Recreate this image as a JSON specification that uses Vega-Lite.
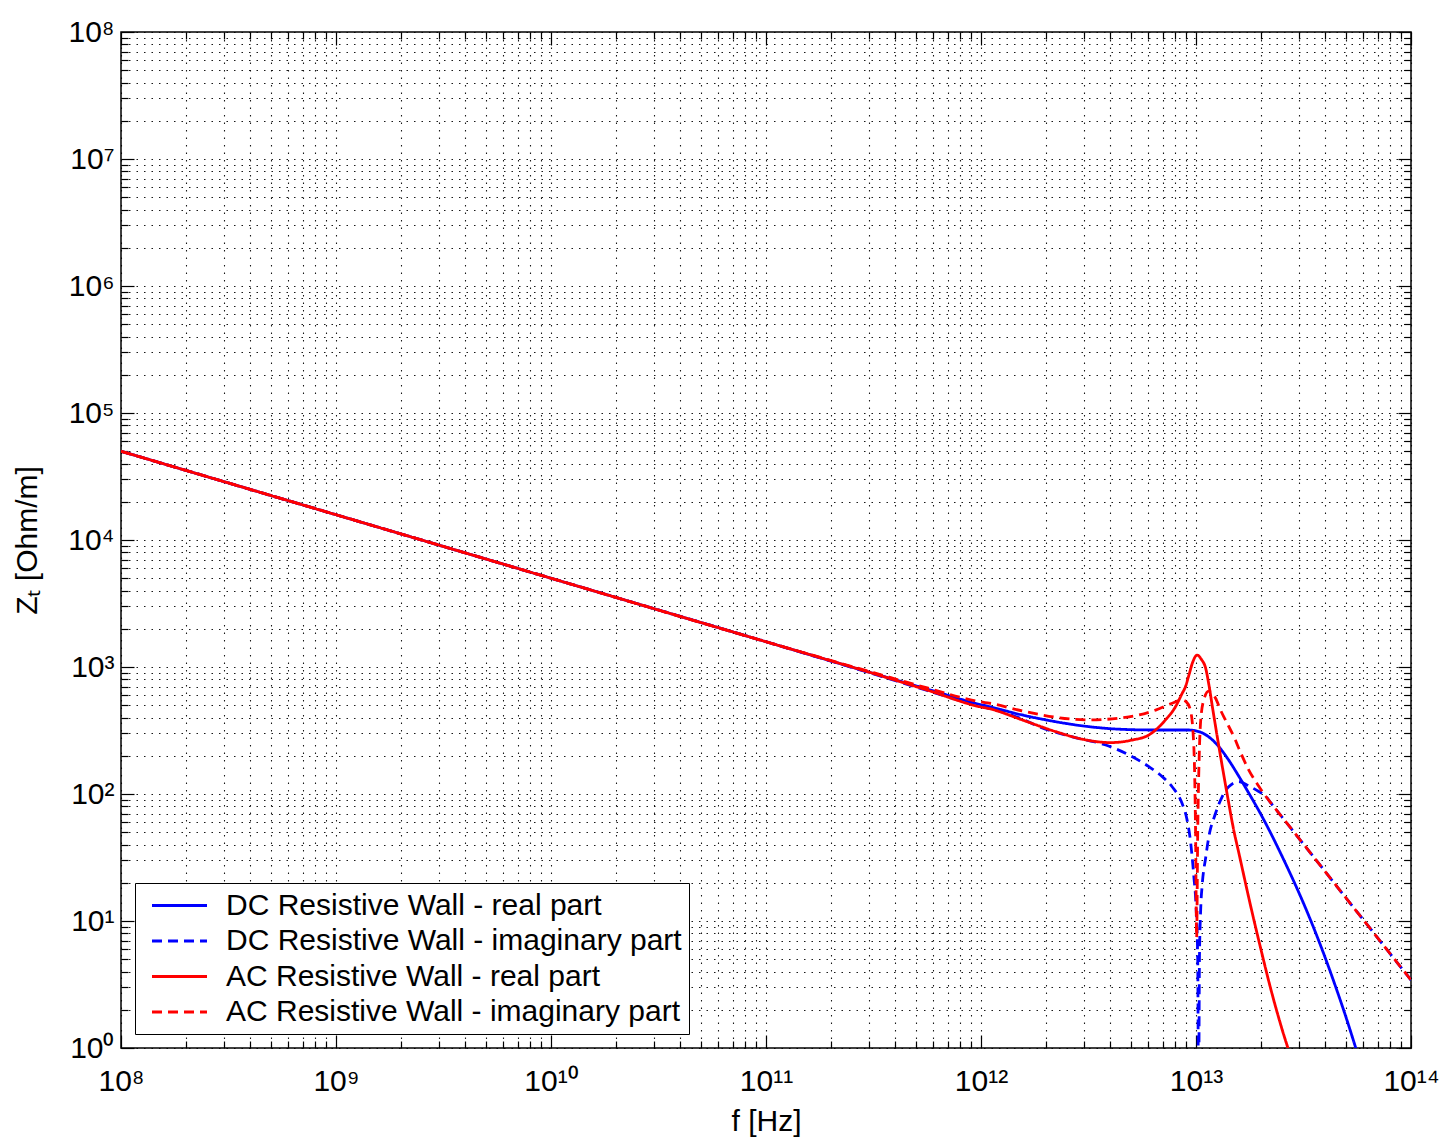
{
  "$schema": "https://vega.github.io/schema/vega-lite/v6.json",
  "width": 1290,
  "height": 1016,
  "autosize": {"type": "none"},
  "padding": {"left": 121, "top": 32, "right": 28, "bottom": 89},
  "background": "white",
  "config": {
    "view": {"stroke": "black", "strokeWidth": 1.5},
    "font": "Liberation Sans",
    "axis": {"labelFont": "Liberation Sans", "titleFont": "Liberation Sans", "labelColor": "black", "titleColor": "black", "titleFontWeight": "normal", "tickColor": "black", "domain": false}
  },
  "datasets": {
    "z": [
      {"f": 1e8, "z": 50000, "s": "DC Resistive Wall - real part"},
      {"f": 1e9, "z": 15812, "s": "DC Resistive Wall - real part"},
      {"f": 1e10, "z": 5000, "s": "DC Resistive Wall - real part"},
      {"f": 1e11, "z": 1581, "s": "DC Resistive Wall - real part"},
      {"f": 3.1623e11, "z": 889, "s": "DC Resistive Wall - real part"},
      {"f": 5.6234e11, "z": 670, "s": "DC Resistive Wall - real part"},
      {"f": 1e12, "z": 505, "s": "DC Resistive Wall - real part"},
      {"f": 1.0914e12, "z": 488, "s": "DC Resistive Wall - real part"},
      {"f": 1.556e12, "z": 419, "s": "DC Resistive Wall - real part"},
      {"f": 2.2233e12, "z": 371, "s": "DC Resistive Wall - real part"},
      {"f": 3.1769e12, "z": 339, "s": "DC Resistive Wall - real part"},
      {"f": 4.5394e12, "z": 323, "s": "DC Resistive Wall - real part"},
      {"f": 6.4863e12, "z": 319, "s": "DC Resistive Wall - real part"},
      {"f": 9.247e12, "z": 319, "s": "DC Resistive Wall - real part"},
      {"f": 1.0304e13, "z": 310, "s": "DC Resistive Wall - real part"},
      {"f": 1.1455e13, "z": 282, "s": "DC Resistive Wall - real part"},
      {"f": 1.2764e13, "z": 236, "s": "DC Resistive Wall - real part"},
      {"f": 1.4191e13, "z": 185, "s": "DC Resistive Wall - real part"},
      {"f": 1.5812e13, "z": 138, "s": "DC Resistive Wall - real part"},
      {"f": 1.7579e13, "z": 102, "s": "DC Resistive Wall - real part"},
      {"f": 1.9588e13, "z": 74.1, "s": "DC Resistive Wall - real part"},
      {"f": 2.2594e13, "z": 46.8, "s": "DC Resistive Wall - real part"},
      {"f": 2.5119e13, "z": 32.4, "s": "DC Resistive Wall - real part"},
      {"f": 2.8184e13, "z": 21.4, "s": "DC Resistive Wall - real part"},
      {"f": 3.1623e13, "z": 13.8, "s": "DC Resistive Wall - real part"},
      {"f": 3.5481e13, "z": 8.61, "s": "DC Resistive Wall - real part"},
      {"f": 3.9811e13, "z": 5.19, "s": "DC Resistive Wall - real part"},
      {"f": 4.4668e13, "z": 3.02, "s": "DC Resistive Wall - real part"},
      {"f": 5.0119e13, "z": 1.70, "s": "DC Resistive Wall - real part"},
      {"f": 5.559e13, "z": 0.977, "s": "DC Resistive Wall - real part"},
      {"f": 6.3096e13, "z": 0.49, "s": "DC Resistive Wall - real part"},

      {"f": 1e8, "z": 50000, "s": "DC Resistive Wall - imaginary part"},
      {"f": 1e9, "z": 15812, "s": "DC Resistive Wall - imaginary part"},
      {"f": 1e10, "z": 5000, "s": "DC Resistive Wall - imaginary part"},
      {"f": 1e11, "z": 1581, "s": "DC Resistive Wall - imaginary part"},
      {"f": 3.1623e11, "z": 881, "s": "DC Resistive Wall - imaginary part"},
      {"f": 5.6234e11, "z": 653, "s": "DC Resistive Wall - imaginary part"},
      {"f": 1e12, "z": 490, "s": "DC Resistive Wall - imaginary part"},
      {"f": 1.0914e12, "z": 473, "s": "DC Resistive Wall - imaginary part"},
      {"f": 1.556e12, "z": 389, "s": "DC Resistive Wall - imaginary part"},
      {"f": 1.8621e12, "z": 339, "s": "DC Resistive Wall - imaginary part"},
      {"f": 2.6607e12, "z": 282, "s": "DC Resistive Wall - imaginary part"},
      {"f": 3.8019e12, "z": 243, "s": "DC Resistive Wall - imaginary part"},
      {"f": 4.8753e12, "z": 203, "s": "DC Resistive Wall - imaginary part"},
      {"f": 6.0395e12, "z": 164, "s": "DC Resistive Wall - imaginary part"},
      {"f": 6.9663e12, "z": 137, "s": "DC Resistive Wall - imaginary part"},
      {"f": 7.7446e12, "z": 114, "s": "DC Resistive Wall - imaginary part"},
      {"f": 8.6099e12, "z": 84.5, "s": "DC Resistive Wall - imaginary part"},
      {"f": 9.0782e12, "z": 63.1, "s": "DC Resistive Wall - imaginary part"},
      {"f": 9.4406e12, "z": 41.7, "s": "DC Resistive Wall - imaginary part"},
      {"f": 9.7724e12, "z": 22.4, "s": "DC Resistive Wall - imaginary part"},
      {"f": 1e13, "z": 13.2, "s": "DC Resistive Wall - imaginary part"},
      {"f": 1.0186e13, "z": 5.0, "s": "DC Resistive Wall - imaginary part"},
      {"f": 1.028e13, "z": 0.32, "s": "DC Resistive Wall - imaginary part"},
      {"f": 1.0375e13, "z": 5.0, "s": "DC Resistive Wall - imaginary part"},
      {"f": 1.052e13, "z": 12.6, "s": "DC Resistive Wall - imaginary part"},
      {"f": 1.0691e13, "z": 19.4, "s": "DC Resistive Wall - imaginary part"},
      {"f": 1.1092e13, "z": 31.5, "s": "DC Resistive Wall - imaginary part"},
      {"f": 1.1455e13, "z": 45.3, "s": "DC Resistive Wall - imaginary part"},
      {"f": 1.2331e13, "z": 70.5, "s": "DC Resistive Wall - imaginary part"},
      {"f": 1.3243e13, "z": 95.3, "s": "DC Resistive Wall - imaginary part"},
      {"f": 1.4191e13, "z": 114, "s": "DC Resistive Wall - imaginary part"},
      {"f": 1.5812e13, "z": 125, "s": "DC Resistive Wall - imaginary part"},
      {"f": 1.7579e13, "z": 116, "s": "DC Resistive Wall - imaginary part"},
      {"f": 1.9498e13, "z": 105, "s": "DC Resistive Wall - imaginary part"},
      {"f": 2.1038e13, "z": 96.6, "s": "DC Resistive Wall - imaginary part"},
      {"f": 2.2387e13, "z": 84.3, "s": "DC Resistive Wall - imaginary part"},
      {"f": 2.5119e13, "z": 65.9, "s": "DC Resistive Wall - imaginary part"},
      {"f": 3.1623e13, "z": 40.3, "s": "DC Resistive Wall - imaginary part"},
      {"f": 3.9811e13, "z": 24.6, "s": "DC Resistive Wall - imaginary part"},
      {"f": 5.0119e13, "z": 15.0, "s": "DC Resistive Wall - imaginary part"},
      {"f": 6.3096e13, "z": 9.18, "s": "DC Resistive Wall - imaginary part"},
      {"f": 7.9433e13, "z": 5.61, "s": "DC Resistive Wall - imaginary part"},
      {"f": 1e14, "z": 3.43, "s": "DC Resistive Wall - imaginary part"},

      {"f": 1e8, "z": 50000, "s": "AC Resistive Wall - real part"},
      {"f": 1e9, "z": 15812, "s": "AC Resistive Wall - real part"},
      {"f": 1e10, "z": 5000, "s": "AC Resistive Wall - real part"},
      {"f": 1e11, "z": 1581, "s": "AC Resistive Wall - real part"},
      {"f": 3.1623e11, "z": 889, "s": "AC Resistive Wall - real part"},
      {"f": 5.6234e11, "z": 658, "s": "AC Resistive Wall - real part"},
      {"f": 1e12, "z": 484, "s": "AC Resistive Wall - real part"},
      {"f": 1.0914e12, "z": 470, "s": "AC Resistive Wall - real part"},
      {"f": 1.556e12, "z": 383, "s": "AC Resistive Wall - real part"},
      {"f": 2.2233e12, "z": 310, "s": "AC Resistive Wall - real part"},
      {"f": 2.958e12, "z": 270, "s": "AC Resistive Wall - real part"},
      {"f": 4.0087e12, "z": 254, "s": "AC Resistive Wall - real part"},
      {"f": 5.0466e12, "z": 266, "s": "AC Resistive Wall - real part"},
      {"f": 6.0395e12, "z": 292, "s": "AC Resistive Wall - real part"},
      {"f": 7.2111e12, "z": 383, "s": "AC Resistive Wall - real part"},
      {"f": 8.0353e12, "z": 488, "s": "AC Resistive Wall - real part"},
      {"f": 8.6099e12, "z": 617, "s": "AC Resistive Wall - real part"},
      {"f": 8.9331e12, "z": 700, "s": "AC Resistive Wall - real part"},
      {"f": 9.247e12, "z": 851, "s": "AC Resistive Wall - real part"},
      {"f": 9.6605e12, "z": 1096, "s": "AC Resistive Wall - real part"},
      {"f": 1.0116e13, "z": 1242, "s": "AC Resistive Wall - real part"},
      {"f": 1.0593e13, "z": 1148, "s": "AC Resistive Wall - real part"},
      {"f": 1.1092e13, "z": 977, "s": "AC Resistive Wall - real part"},
      {"f": 1.1482e13, "z": 724, "s": "AC Resistive Wall - real part"},
      {"f": 1.1885e13, "z": 501, "s": "AC Resistive Wall - real part"},
      {"f": 1.2589e13, "z": 275, "s": "AC Resistive Wall - real part"},
      {"f": 1.3335e13, "z": 155, "s": "AC Resistive Wall - real part"},
      {"f": 1.4125e13, "z": 89.1, "s": "AC Resistive Wall - real part"},
      {"f": 1.4962e13, "z": 52.5, "s": "AC Resistive Wall - real part"},
      {"f": 1.5849e13, "z": 33.9, "s": "AC Resistive Wall - real part"},
      {"f": 1.7783e13, "z": 14.1, "s": "AC Resistive Wall - real part"},
      {"f": 1.9953e13, "z": 6.17, "s": "AC Resistive Wall - real part"},
      {"f": 2.2387e13, "z": 2.82, "s": "AC Resistive Wall - real part"},
      {"f": 2.5119e13, "z": 1.41, "s": "AC Resistive Wall - real part"},
      {"f": 2.8184e13, "z": 0.76, "s": "AC Resistive Wall - real part"},
      {"f": 3.1623e13, "z": 0.4, "s": "AC Resistive Wall - real part"},

      {"f": 1e8, "z": 50000, "s": "AC Resistive Wall - imaginary part"},
      {"f": 1e9, "z": 15812, "s": "AC Resistive Wall - imaginary part"},
      {"f": 1e10, "z": 5000, "s": "AC Resistive Wall - imaginary part"},
      {"f": 1e11, "z": 1581, "s": "AC Resistive Wall - imaginary part"},
      {"f": 3.1623e11, "z": 902, "s": "AC Resistive Wall - imaginary part"},
      {"f": 5.6234e11, "z": 684, "s": "AC Resistive Wall - imaginary part"},
      {"f": 1e12, "z": 531, "s": "AC Resistive Wall - imaginary part"},
      {"f": 1.0914e12, "z": 519, "s": "AC Resistive Wall - imaginary part"},
      {"f": 1.556e12, "z": 451, "s": "AC Resistive Wall - imaginary part"},
      {"f": 2.2233e12, "z": 402, "s": "AC Resistive Wall - imaginary part"},
      {"f": 3.1769e12, "z": 383, "s": "AC Resistive Wall - imaginary part"},
      {"f": 3.8019e12, "z": 387, "s": "AC Resistive Wall - imaginary part"},
      {"f": 4.5394e12, "z": 399, "s": "AC Resistive Wall - imaginary part"},
      {"f": 5.42e12, "z": 419, "s": "AC Resistive Wall - imaginary part"},
      {"f": 6.4863e12, "z": 458, "s": "AC Resistive Wall - imaginary part"},
      {"f": 7.7446e12, "z": 518, "s": "AC Resistive Wall - imaginary part"},
      {"f": 8.6099e12, "z": 550, "s": "AC Resistive Wall - imaginary part"},
      {"f": 9.0157e12, "z": 531, "s": "AC Resistive Wall - imaginary part"},
      {"f": 9.4189e12, "z": 458, "s": "AC Resistive Wall - imaginary part"},
      {"f": 9.7724e12, "z": 236, "s": "AC Resistive Wall - imaginary part"},
      {"f": 9.9541e12, "z": 50, "s": "AC Resistive Wall - imaginary part"},
      {"f": 1.0069e13, "z": 7.4, "s": "AC Resistive Wall - imaginary part"},
      {"f": 1.0186e13, "z": 50, "s": "AC Resistive Wall - imaginary part"},
      {"f": 1.0351e13, "z": 200, "s": "AC Resistive Wall - imaginary part"},
      {"f": 1.0495e13, "z": 361, "s": "AC Resistive Wall - imaginary part"},
      {"f": 1.0864e13, "z": 550, "s": "AC Resistive Wall - imaginary part"},
      {"f": 1.1455e13, "z": 646, "s": "AC Resistive Wall - imaginary part"},
      {"f": 1.1885e13, "z": 617, "s": "AC Resistive Wall - imaginary part"},
      {"f": 1.2331e13, "z": 568, "s": "AC Resistive Wall - imaginary part"},
      {"f": 1.3002e13, "z": 458, "s": "AC Resistive Wall - imaginary part"},
      {"f": 1.3709e13, "z": 383, "s": "AC Resistive Wall - imaginary part"},
      {"f": 1.5241e13, "z": 266, "s": "AC Resistive Wall - imaginary part"},
      {"f": 1.5812e13, "z": 229, "s": "AC Resistive Wall - imaginary part"},
      {"f": 1.7579e13, "z": 155, "s": "AC Resistive Wall - imaginary part"},
      {"f": 1.9588e13, "z": 115, "s": "AC Resistive Wall - imaginary part"},
      {"f": 2.1038e13, "z": 96.6, "s": "AC Resistive Wall - imaginary part"},
      {"f": 2.2387e13, "z": 84.3, "s": "AC Resistive Wall - imaginary part"},
      {"f": 2.5119e13, "z": 65.9, "s": "AC Resistive Wall - imaginary part"},
      {"f": 3.1623e13, "z": 40.3, "s": "AC Resistive Wall - imaginary part"},
      {"f": 3.9811e13, "z": 24.6, "s": "AC Resistive Wall - imaginary part"},
      {"f": 5.0119e13, "z": 15.0, "s": "AC Resistive Wall - imaginary part"},
      {"f": 6.3096e13, "z": 9.18, "s": "AC Resistive Wall - imaginary part"},
      {"f": 7.9433e13, "z": 5.61, "s": "AC Resistive Wall - imaginary part"},
      {"f": 1e14, "z": 3.43, "s": "AC Resistive Wall - imaginary part"}
    ]
  },
  "layer": [
    {
      "data": {"name": "z"},
      "mark": {"type": "line", "clip": true, "strokeWidth": 2.8, "interpolate": "monotone"},
      "encoding": {
        "x": {
          "field": "f", "type": "quantitative",
          "scale": {"type": "log", "domain": [1e8, 1e14], "nice": false},
          "axis": {
            "orient": "bottom",
            "title": "f [Hz]", "titleFontSize": 30, "titlePadding": 4,
            "values": [1e8,2e8,3e8,4e8,5e8,6e8,7e8,8e8,9e8,1e9,2e9,3e9,4e9,5e9,6e9,7e9,8e9,9e9,1e10,2e10,3e10,4e10,5e10,6e10,7e10,8e10,9e10,1e11,2e11,3e11,4e11,5e11,6e11,7e11,8e11,9e11,1e12,2e12,3e12,4e12,5e12,6e12,7e12,8e12,9e12,1e13,2e13,3e13,4e13,5e13,6e13,7e13,8e13,9e13,1e14],
            "labelExpr": "abs(log(datum.value)/LN10 - round(log(datum.value)/LN10)) < 1e-6 ? '10' + ['⁰','¹','²','³','⁴','⁵','⁶','⁷','⁸','⁹','¹⁰','¹¹','¹²','¹³','¹⁴'][round(log(datum.value)/LN10)] : ''",
            "labelFontSize": 30, "labelPadding": 31, "labelFlush": false, "labelOverlap": false,
            "grid": true, "gridColor": "black", "gridDash": [1.5, 6], "gridWidth": 1.1, "gridOpacity": 0.9,
            "tickSize": {"condition": {"test": "abs(log(datum.value)/LN10 - round(log(datum.value)/LN10)) < 1e-6", "value": -13}, "value": -7},
            "tickWidth": 1.2
          }
        },
        "y": {
          "field": "z", "type": "quantitative",
          "scale": {"type": "log", "domain": [1, 1e8], "nice": false},
          "axis": {
            "orient": "left",
            "title": "Zₜ [Ohm/m]", "titleFontSize": 30, "titlePadding": 25,
            "values": [1,2,3,4,5,6,7,8,9,10,20,30,40,50,60,70,80,90,100,200,300,400,500,600,700,800,900,1000,2000,3000,4000,5000,6000,7000,8000,9000,1e4,2e4,3e4,4e4,5e4,6e4,7e4,8e4,9e4,1e5,2e5,3e5,4e5,5e5,6e5,7e5,8e5,9e5,1e6,2e6,3e6,4e6,5e6,6e6,7e6,8e6,9e6,1e7,2e7,3e7,4e7,5e7,6e7,7e7,8e7,9e7,1e8],
            "labelExpr": "abs(log(datum.value)/LN10 - round(log(datum.value)/LN10)) < 1e-6 ? '10' + ['⁰','¹','²','³','⁴','⁵','⁶','⁷','⁸','⁹','¹⁰','¹¹','¹²','¹³','¹⁴'][round(log(datum.value)/LN10)] : ''",
            "labelFontSize": 30, "labelPadding": 20, "labelFlush": false, "labelOverlap": false,
            "grid": true, "gridColor": "black", "gridDash": [1.5, 6], "gridWidth": 1.1, "gridOpacity": 0.9,
            "tickSize": {"condition": {"test": "abs(log(datum.value)/LN10 - round(log(datum.value)/LN10)) < 1e-6", "value": -13}, "value": -7},
            "tickWidth": 1.2
          }
        },
        "color": {
          "field": "s", "type": "nominal",
          "scale": {"domain": ["DC Resistive Wall - real part", "DC Resistive Wall - imaginary part", "AC Resistive Wall - real part", "AC Resistive Wall - imaginary part"], "range": ["#0000ff", "#0000ff", "#ff0000", "#ff0000"]},
          "legend": {
            "title": null, "orient": "bottom-left", "offset": 14,
            "labelFontSize": 30, "labelFont": "Liberation Sans", "labelColor": "black", "labelLimit": 700,
            "symbolType": "M-2,0H2", "symbolSize": 756, "symbolStrokeWidth": 2.8,
            "strokeColor": "black", "fillColor": "white", "padding": 7, "symbolOffset": 22,
            "labelOffset": 31, "rowPadding": 4.5
          }
        },
        "strokeDash": {
          "field": "s", "type": "nominal",
          "scale": {"domain": ["DC Resistive Wall - real part", "DC Resistive Wall - imaginary part", "AC Resistive Wall - real part", "AC Resistive Wall - imaginary part"], "range": [[1, 0], [10, 6], [1, 0], [10, 6]]},
          "legend": {
            "title": null, "orient": "bottom-left", "offset": 14,
            "labelFontSize": 30, "labelFont": "Liberation Sans", "labelColor": "black", "labelLimit": 700,
            "symbolType": "M-2,0H2", "symbolSize": 756, "symbolStrokeWidth": 2.8,
            "strokeColor": "black", "fillColor": "white", "padding": 7, "symbolOffset": 22,
            "labelOffset": 31, "rowPadding": 4.5
          }
        }
      }
    },
    {
      "data": {"name": "z"},
      "mark": {"type": "point", "opacity": 0},
      "encoding": {
        "x": {
          "field": "f", "type": "quantitative",
          "axis": {
            "orient": "top", "title": null, "labels": false, "grid": false,
            "values": [1e8,2e8,3e8,4e8,5e8,6e8,7e8,8e8,9e8,1e9,2e9,3e9,4e9,5e9,6e9,7e9,8e9,9e9,1e10,2e10,3e10,4e10,5e10,6e10,7e10,8e10,9e10,1e11,2e11,3e11,4e11,5e11,6e11,7e11,8e11,9e11,1e12,2e12,3e12,4e12,5e12,6e12,7e12,8e12,9e12,1e13,2e13,3e13,4e13,5e13,6e13,7e13,8e13,9e13,1e14],
            "tickSize": {"condition": {"test": "abs(log(datum.value)/LN10 - round(log(datum.value)/LN10)) < 1e-6", "value": -13}, "value": -7},
            "tickWidth": 1.2
          }
        },
        "y": {
          "field": "z", "type": "quantitative",
          "axis": {
            "orient": "right", "title": null, "labels": false, "grid": false,
            "values": [1,2,3,4,5,6,7,8,9,10,20,30,40,50,60,70,80,90,100,200,300,400,500,600,700,800,900,1000,2000,3000,4000,5000,6000,7000,8000,9000,1e4,2e4,3e4,4e4,5e4,6e4,7e4,8e4,9e4,1e5,2e5,3e5,4e5,5e5,6e5,7e5,8e5,9e5,1e6,2e6,3e6,4e6,5e6,6e6,7e6,8e6,9e6,1e7,2e7,3e7,4e7,5e7,6e7,7e7,8e7,9e7,1e8],
            "tickSize": {"condition": {"test": "abs(log(datum.value)/LN10 - round(log(datum.value)/LN10)) < 1e-6", "value": -13}, "value": -7},
            "tickWidth": 1.2
          }
        }
      }
    }
  ]
}
